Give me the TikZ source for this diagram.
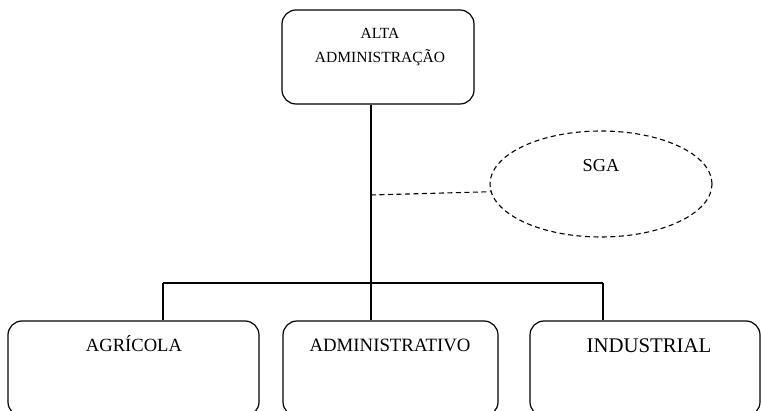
\documentclass[tikz,border=0pt]{standalone}
\usepackage{fontspec}
\setmainfont{Liberation Serif}
\usetikzlibrary{shapes.geometric}
\begin{document}
\begin{tikzpicture}[x=1pt,y=-1pt,
 box/.style={draw, rounded corners=14pt, inner sep=0pt, line width=1.2pt},
 oval/.style={draw, ellipse, inner sep=0pt, dashed, dash pattern=on 5pt off 3.5pt, line width=1.1pt},
 lbl/.style={inner sep=0pt, anchor=base},
 conn/.style={line width=1.2pt},
 dsh/.style={dash pattern=on 5pt off 3.5pt, line width=1.1pt}]
\useasboundingbox (0,0) rectangle (761,411);
\begin{scope}
\clip (0,0) rectangle (761,411);
\node[box, minimum width=192pt, minimum height=94pt] (top) at (378,57) {};
\node[box, minimum width=251pt, minimum height=95pt] (left) at (133.5,368.5) {};
\node[box, minimum width=215pt, minimum height=95pt] (mid) at (390.5,368.5) {};
\node[box, minimum width=230pt, minimum height=95pt] (right) at (645,368.5) {};
\node[oval, minimum width=222pt, minimum height=106pt] (sga) at (601,184) {};

\node[lbl, font=\fontsize{15.5}{18}\selectfont] (t1) at (380,39) {ALTA};
\node[lbl, font=\fontsize{15.5}{18}\selectfont] (t2) at (380,63) {ADMINISTRAÇÃO};
\node[lbl, font=\fontsize{18.3}{20}\selectfont] (t3) at (601,172) {SGA};
\node[lbl, font=\fontsize{18.6}{20}\selectfont] (t4) at (134,351.5) {AGRÍCOLA};
\node[lbl, font=\fontsize{18.8}{20}\selectfont] (t5) at (390,351.5) {ADMINISTRATIVO};
\node[lbl, font=\fontsize{20.8}{22}\selectfont] (t6) at (649,353) {INDUSTRIAL};

\coordinate (jc) at (371,283);
\coordinate (jl) at (163,283);
\coordinate (jr) at (603,283);
\coordinate (d) at (371,195);
\draw[conn] (top.south -| jc) -- (mid.north -| jc);
\draw[conn] (jl) -- (jr);
\draw[conn] (jl) -- (left.north -| jl);
\draw[conn] (jr) -- (right.north -| jr);
\draw[dsh] (d) -- (sga.184);
\end{scope}
\end{tikzpicture}
\end{document}
